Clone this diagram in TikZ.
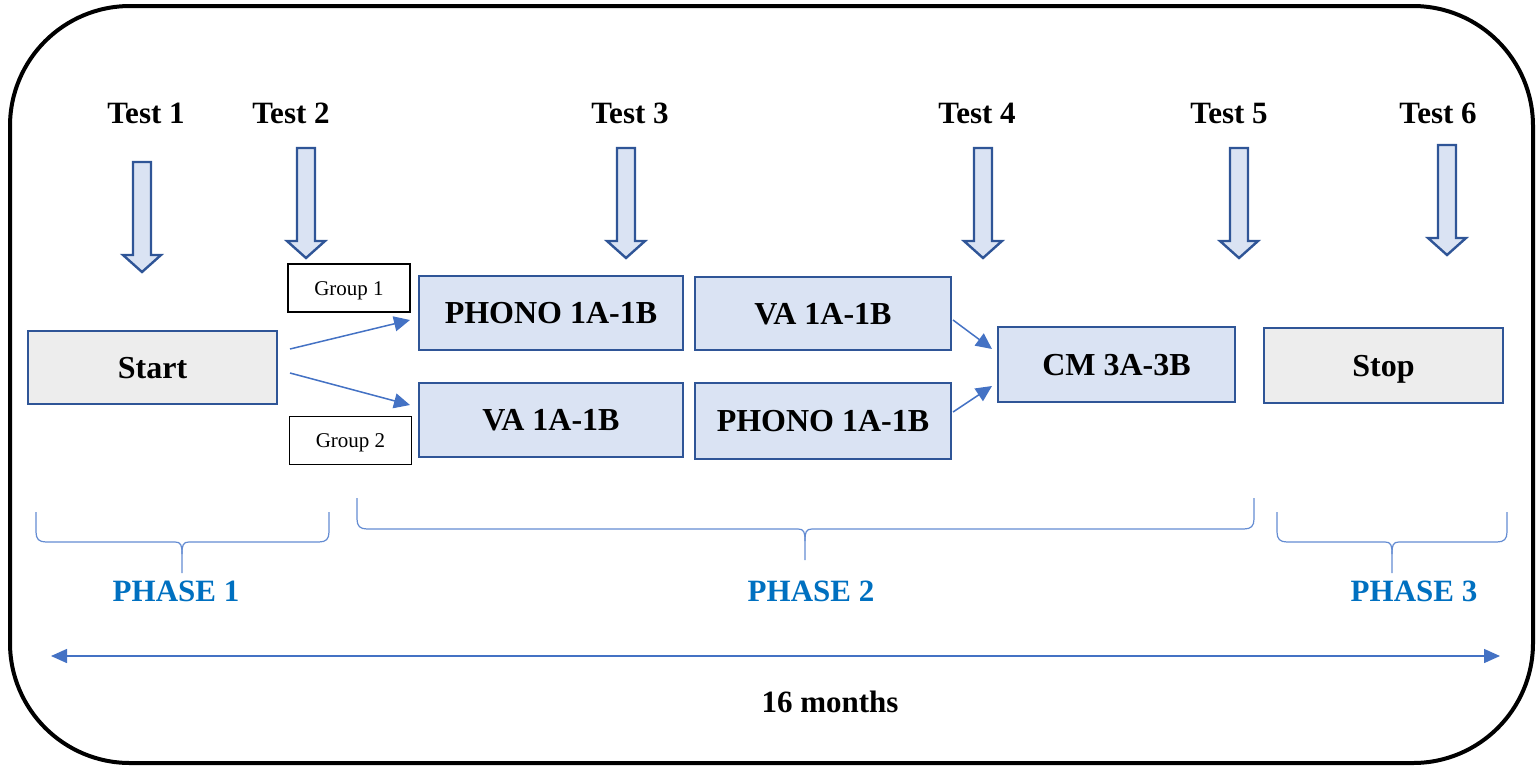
\documentclass[tikz,border=0pt]{standalone}
\usepackage{fontspec}
\setmainfont{Liberation Serif}
\usetikzlibrary{arrows.meta,calc}
\definecolor{boxblue}{RGB}{218,227,243}
\definecolor{boxgray}{RGB}{237,237,237}
\definecolor{edgeblue}{RGB}{47,85,151}
\definecolor{lineblue}{RGB}{68,114,196}
\definecolor{bracecol}{RGB}{100,140,210}
\definecolor{phaseblue}{RGB}{0,112,192}
\tikzset{
  testlabel/.style={anchor=base, inner sep=0pt, font=\fontsize{15.5}{18}\selectfont\bfseries},
  phaselabel/.style={anchor=base, inner sep=0pt, text=phaseblue, font=\fontsize{15.5}{18}\selectfont\bfseries},
  bluebox/.style={draw=edgeblue, fill=boxblue, line width=1.3pt, inner sep=0pt, text height=10.6pt, text depth=0pt, font=\fontsize{16}{19}\selectfont\bfseries},
  graybox/.style={draw=edgeblue, fill=boxgray, line width=1.3pt, inner sep=0pt, text height=10.6pt, text depth=0pt, font=\fontsize{16}{19}\selectfont\bfseries},
  groupbox/.style={draw=black, line width=0.7pt, inner sep=0pt, minimum width=61pt, minimum height=24pt, text height=7pt, text depth=0pt, font=\fontsize{10.5}{12}\selectfont},
  conn/.style={draw=lineblue, line width=0.75pt, -{Triangle[length=8pt,width=7.5pt]}},
  bracestyle/.style={draw=bracecol, line width=0.6pt},
  arrowstyle/.style={draw=edgeblue, fill=boxblue, line width=1.2pt, line join=miter},
  testarrow/.pic={\path[arrowstyle] (-9,0) -- (9,0) -- (9,93) -- (19,93) -- (0,110) -- (-19,93) -- (-9,93) -- cycle;}
}
\newcommand\phasebrace[6]{%
  \draw[bracestyle] (#1,#4) -- (#1,#5-10) .. controls (#1,#5-3) and (#1+3,#5) .. (#1+10,#5) -- (#3-7,#5) .. controls (#3-1,#5) and (#3,#5+3) .. (#3,#5+12) -- (#3,#6);
  \draw[bracestyle] (#2,#4) -- (#2,#5-10) .. controls (#2,#5-3) and (#2-3,#5) .. (#2-10,#5) -- (#3+7,#5) .. controls (#3+1,#5) and (#3,#5+3) .. (#3,#5+12);
}
\begin{document}
\begin{tikzpicture}[x=0.5pt, y=-0.5pt]
\useasboundingbox (0,0) rectangle (1537,767);
% outer frame
\draw[line width=2pt, rounded corners=60pt] (10,6) rectangle (1533,763);

% test labels
\node[testlabel] (t1) at (146,123) {Test 1};
\node[testlabel] (t2) at (291,123) {Test 2};
\node[testlabel] (t3) at (630,123) {Test 3};
\node[testlabel] (t4) at (977,123) {Test 4};
\node[testlabel] (t5) at (1229,123) {Test 5};
\node[testlabel] (t6) at (1438,123) {Test 6};

% block arrows
\pic (a1) at (142,162) {testarrow};
\pic (a2) at (306,148) {testarrow};
\pic (a3) at (626,148) {testarrow};
\pic (a4) at (983,148) {testarrow};
\pic (a5) at (1239,148) {testarrow};
\pic (a6) at (1447,145) {testarrow};

% boxes
\node[graybox, minimum width=124.5pt, minimum height=36.5pt] (start) at (152.5,367.5) {Start};
\node[bluebox, minimum width=132pt, minimum height=37pt] (p1) at (551,313) {PHONO 1A-1B};
\node[bluebox, minimum width=132pt, minimum height=37pt] (v1) at (551,420) {VA 1A-1B};
\node[bluebox, minimum width=128pt, minimum height=36.5pt] (v2) at (823,313.5) {VA 1A-1B};
\node[bluebox, minimum width=128pt, minimum height=38pt] (p2) at (823,421) {PHONO 1A-1B};
\node[bluebox, minimum width=118.5pt, minimum height=37.5pt] (cm) at (1116.5,364.5) {CM 3A-3B};
\node[graybox, minimum width=119.5pt, minimum height=37.5pt] (stop) at (1383.5,365.5) {Stop};

\node[groupbox] (g1) at (349,288) {Group 1};
\node[groupbox] (g2) at (350.5,440.5) {Group 2};

% connectors
\coordinate (s1) at (290,349);
\coordinate (e1) at (410,320);
\coordinate (s2) at (290,373);
\coordinate (e2) at (410,405);
\coordinate (s3) at (953,320);
\coordinate (e3) at (992,349);
\coordinate (s4) at (953,412);
\coordinate (e4) at (992,386);
\draw[conn] (s1) -- (e1);
\draw[conn] (s2) -- (e2);
\draw[conn] (s3) -- (e3);
\draw[conn] (s4) -- (e4);

% braces
\phasebrace{36}{329}{182}{512}{542}{573}
\phasebrace{357}{1254}{805}{498}{529}{560}
\phasebrace{1277}{1507}{1392}{512}{542}{573}

\node[phaselabel] (ph1) at (176,601) {PHASE 1};
\node[phaselabel] (ph2) at (811,601) {PHASE 2};
\node[phaselabel] (ph3) at (1414,601) {PHASE 3};

% timeline
\coordinate (tl) at (51,656);
\coordinate (tr) at (1500,656);
\draw[draw=lineblue, line width=0.75pt, {Triangle[length=8pt,width=7pt]}-{Triangle[length=8pt,width=7pt]}] (tl) -- (tr);
\node[testlabel] (months) at (830,712) {16 months};
\end{tikzpicture}
\end{document}
